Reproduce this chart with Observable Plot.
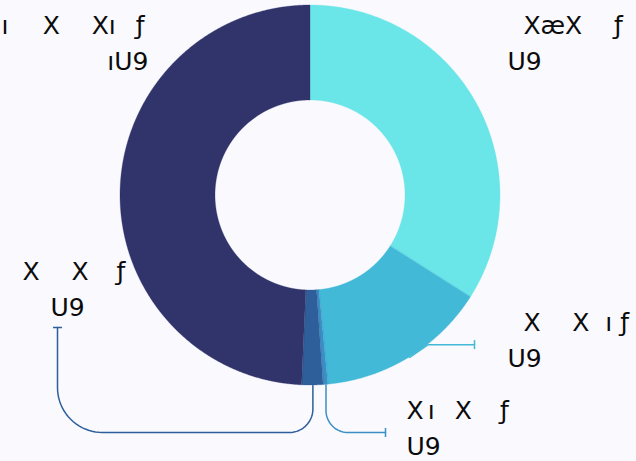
<!DOCTYPE html>
<html><head><meta charset="utf-8">
<script src="https://cdn.jsdelivr.net/npm/d3@7"></script>
<script src="https://cdn.jsdelivr.net/npm/@observablehq/plot@0.6"></script>
<style>
html,body{margin:0;padding:0;background:#f9f9fe;}
#chart{width:636px;height:461px;overflow:hidden;}
</style>
</head><body><div id="chart"></div>
<script>
const S = "\u00a0", S6 = "\u2006", HS = "\u200a";

// Slices, clockwise from 12 o'clock
const nameLines = [
  S + S + "XæX" + S + S + S + S + "ƒ",
  S + S + "X" + S + S + S + S + "X" + S + S + "ı" + S + "ƒ",
  "X" + S6 + "ı" + S + S + S6 + "X" + S + S + S + S6 + "ƒ",
  "X" + S + S + S + S + "X" + S + S + S + S6 + "ƒ",
  "ı" + S + S + S + S + HS + "X" + S + S + S + S + "Xı" + S + S + S6 + "ƒ"
];
const pctLines = [
  "U9",
  "U9",
  "U9",
  S + S + S + S6 + "U9",
  S.repeat(13) + HS + "ıU9"
];
const values = [34.0, 14.5, 0.4, 1.8, 49.3];
const colors = ["#6ae5e8", "#43b9d8", "#3a8fc4", "#2e5f9b", "#31346b"];

// ---- layout (in pixel-like layout units mapped 1:1 by the x/y scales) ----
const W = 636, H = 461;
const cx = 310, cy = 195, R = 190, R0 = 95;
const fontSize = 25, lineH = 36;

const pie = d3.pie().sort(null).value(d => d)(values);
const pt = (a, rad) => [cx + rad * Math.sin(a), cy - rad * Math.cos(a)];
const mid = p => (p.startAngle + p.endAngle) / 2;

// sector rows for Plot.area (inner arc -> outer arc)
const sectorRows = [];
pie.forEach((p, i) => {
  const n = Math.max(2, Math.ceil((p.endAngle - p.startAngle) / (Math.PI / 720)));
  for (let k = 0; k <= n; k++) {
    const a = p.startAngle + (p.endAngle - p.startAngle) * k / n;
    const [xi, yi] = pt(a, R0), [xo, yo] = pt(a, R);
    sectorRows.push({key: i, xi, yi, xo, yo, fill: colors[i]});
  }
});

function rounded(points, radius) {
  const out = [points[0]];
  for (let i = 1; i < points.length - 1; i++) {
    const [x0, y0] = points[i - 1], [x1, y1] = points[i], [x2, y2] = points[i + 1];
    const d1 = Math.hypot(x1 - x0, y1 - y0), d2 = Math.hypot(x2 - x1, y2 - y1);
    const rr = Math.min(radius, d1 / 2, d2 / 2);
    const u1 = [(x0 - x1) / d1, (y0 - y1) / d1], u2 = [(x2 - x1) / d2, (y2 - y1) / d2];
    const A = [x1 + u1[0] * rr, y1 + u1[1] * rr], B = [x1 + u2[0] * rr, y1 + u2[1] * rr];
    const C = [A[0] + u2[0] * rr, A[1] + u2[1] * rr];
    const a0 = Math.atan2(A[1] - C[1], A[0] - C[0]), a1 = Math.atan2(B[1] - C[1], B[0] - C[0]);
    let da = a1 - a0;
    while (da > Math.PI) da -= 2 * Math.PI;
    while (da < -Math.PI) da += 2 * Math.PI;
    for (let k = 0; k <= 20; k++) {
      const a = a0 + da * k / 20;
      out.push([C[0] + rr * Math.cos(a), C[1] + rr * Math.sin(a)]);
    }
  }
  out.push(points[points.length - 1]);
  return out;
}

// leader routing
const bottomY = cy + R + 47;          // route under the donut
const rightY = cy + R * 0.785;         // right-hand leader height
const leaders = [];
{
  const p = pie[1], P0 = pt(mid(p), R);
  const P1 = [cx + Math.sqrt(R * R - (rightY - cy) ** 2), rightY];
  leaders.push({i: 1, pts: [P0, P1, [cx + R - 26, rightY]], r: 0});
  const q = pie[2], Q0 = pt(mid(q), R);
  leaders.push({i: 2, pts: [Q0, [Q0[0], bottomY], [cx + 75, bottomY]], r: 22});
  const s = pie[3], S0 = pt(mid(s), R);
  leaders.push({i: 3, pts: [S0, [S0[0], bottomY], [cx - R - 63, bottomY], [cx - R - 63, bottomY - 105]], r: 45});
}
const leaderRows = [], tickRows = [];
leaders.forEach(L => {
  const pts = L.r ? rounded(L.pts, L.r) : L.pts;
  pts.forEach(([x, y]) => leaderRows.push({key: L.i, x, y, c: colors[L.i]}));
  const [ax, ay] = L.pts[L.pts.length - 2], [bx, by] = L.pts[L.pts.length - 1];
  const d = Math.hypot(bx - ax, by - ay), nx = -(by - ay) / d, ny = (bx - ax) / d;
  tickRows.push({x1: bx - nx * 4.5, y1: by - ny * 4.5, x2: bx + nx * 4.5, y2: by + ny * 4.5, c: colors[L.i]});
});

// label anchors (x, first baseline)
const end = L => L.pts[L.pts.length - 1];
const anchors = [];
anchors[0] = [cx + R + 7, 33];
anchors[1] = [cx + R + 7, end(leaders[0])[1] - 14];
anchors[2] = [end(leaders[1])[0] + 21, end(leaders[1])[1] - 14];
anchors[3] = [end(leaders[2])[0] - 35, end(leaders[2])[1] - 12 - lineH];
anchors[4] = [1, 33];

const textRows = [];
anchors.forEach(([x, b], i) => {
  textRows.push({x, y: b - 0.32 * fontSize, t: nameLines[i]});
  textRows.push({x, y: b + lineH - 0.32 * fontSize, t: pctLines[i]});
});

const chart = Plot.plot({
  width: W, height: H,
  margin: 0,
  x: {domain: [0, W], range: [0, W], axis: null},
  y: {domain: [0, H], range: [0, H], axis: null},
  color: {type: "identity"},
  style: {background: "#f9f9fe", fontFamily: "'DejaVu Sans', sans-serif", overflow: "visible"},
  marks: [
    Plot.line(leaderRows, {x: "x", y: "y", z: "key", stroke: "c", strokeWidth: 1.5, curve: "linear"}),
    Plot.link(tickRows, {x1: "x1", y1: "y1", x2: "x2", y2: "y2", stroke: "c", strokeWidth: 1.5}),
    Plot.area(sectorRows, {x1: "xi", y1: "yi", x2: "xo", y2: "yo", z: "key", fill: "fill", stroke: "fill", strokeWidth: 0.3}),
    Plot.text(textRows, {x: "x", y: "y", text: "t", textAnchor: "start", fontSize: fontSize, fill: "#0b0b0b"})
  ]
});
document.getElementById("chart").appendChild(chart);
</script>
</body></html>
